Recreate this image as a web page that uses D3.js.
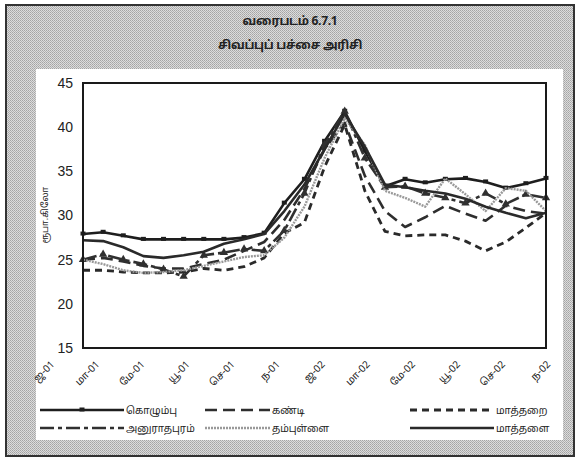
<!DOCTYPE html>
<html>
<head>
<meta charset="utf-8">
<script src="https://cdn.jsdelivr.net/npm/d3@7"></script>
<style>
  html, body { margin: 0; padding: 0; background: #fff; }
  svg { display: block; }
  text { font-family: "Noto Sans Tamil", "Latha", "Liberation Sans", Arial, sans-serif; }
</style>
</head>
<body>
<svg id="chart" width="579" height="460"></svg>
<script>
// மாதங்கள் ஜன-01 .. டிச-02
const months = d3.range(24);
const tickLabels = ['ஜ-01', 'மா-01', 'மே-01', 'யூ-01', 'செ-01', 'ந-01',
                    'ஜ-02', 'மா-02', 'மே-02', 'யூ-02', 'செ-02', 'ந-02'];
const yTicks = [15, 20, 25, 30, 35, 40, 45];

const colombo      = [27.9, 28.1, 27.7, 27.3, 27.3, 27.3, 27.3, 27.3, 27.5, 28.0, 31.4, 34.1, 38.4, 41.8, 37.3, 33.3, 34.1, 33.7, 34.1, 34.2, 33.8, 33.1, 33.6, 34.2];
const kandy        = [25.0, 25.2, 24.8, 24.3, 24.0, 24.0, 24.5, 25.0, 26.0, 27.0, 29.5, 33.0, 37.5, 40.5, 34.5, 30.5, 28.7, 29.8, 31.1, 30.2, 29.4, 31.1, 30.5, 30.2];
const matara       = [23.8, 23.8, 23.6, 23.5, 23.5, 23.6, 24.0, 23.8, 24.2, 25.2, 28.0, 29.2, 35.5, 40.3, 32.8, 28.2, 27.7, 27.8, 27.8, 27.1, 26.0, 27.0, 28.6, 30.3];
const anuradhapura = [25.0, 25.6, 25.0, 24.5, 23.9, 23.1, 25.5, 25.8, 26.2, 26.0, 28.3, 32.5, 38.0, 41.8, 36.5, 33.2, 33.3, 32.5, 32.0, 31.4, 32.5, 31.3, 32.4, 32.0];
const dambulla     = [25.0, 24.5, 23.8, 23.5, 23.6, 23.8, 24.3, 24.8, 25.3, 25.5, 27.5, 31.0, 36.5, 41.0, 38.0, 32.8, 32.0, 31.0, 34.2, 32.4, 30.5, 33.1, 32.8, 30.5];
const matale       = [27.2, 27.1, 26.4, 25.4, 25.2, 25.5, 25.9, 26.8, 27.3, 27.9, 30.5, 33.5, 37.5, 41.5, 37.8, 33.5, 33.2, 32.8, 32.5, 31.9, 31.0, 30.3, 29.7, 30.3];

const series = [
  { name: 'கொழும்பு',    values: colombo,      color: '#1e1e1e', width: 2.6, dash: null,         marker: 'square' },
  { name: 'கண்டி',       values: kandy,        color: '#2e2e2e', width: 2.6, dash: '12,6',       marker: null },
  { name: 'மாத்தறை',    values: matara,       color: '#2a2a2a', width: 2.8, dash: '7,5',        marker: null },
  { name: 'அனுராதபுரம்', values: anuradhapura, color: '#303030', width: 2.6, dash: '14,4,4,4',   marker: 'triangle' },
  { name: 'தம்புள்ளை',   values: dambulla,     color: '#999999', width: 2.4, dash: '2,1',        marker: null },
  { name: 'மாத்தளை',    values: matale,       color: '#2a2a2a', width: 2.6, dash: null,         marker: null },
];

const svg = d3.select('#chart');

// பின்புல புள்ளி அமைப்பு
const defs = svg.append('defs');
const pat = defs.append('pattern')
  .attr('id', 'hatch').attr('width', 2).attr('height', 2)
  .attr('patternUnits', 'userSpaceOnUse');
pat.append('rect').attr('width', 2).attr('height', 2).attr('fill', '#dcdcdc');
pat.append('rect').attr('width', 1).attr('height', 1).attr('fill', '#a4a4a4');
pat.append('rect').attr('x', 1).attr('y', 1).attr('width', 1).attr('height', 1).attr('fill', '#b2b2b2');

svg.append('rect').attr('x', 6).attr('y', 5).attr('width', 568).attr('height', 451)
  .attr('fill', 'url(#hatch)').attr('stroke', '#333').attr('stroke-width', 2);

svg.append('rect').attr('x', 36).attr('y', 69).attr('width', 527).attr('height', 371)
  .attr('fill', '#fff');

svg.append('text').attr('x', 290).attr('y', 25).attr('text-anchor', 'middle')
  .style('font-size', '12px').style('font-weight', 'bold').style('letter-spacing', '-0.3px')
  .attr('fill', '#222')
  .text('வரைபடம் 6.7.1');
svg.append('text').attr('x', 290).attr('y', 49).attr('text-anchor', 'middle')
  .style('font-size', '12px').style('font-weight', 'bold').style('letter-spacing', '-0.3px')
  .attr('fill', '#222')
  .text('சிவப்புப் பச்சை அரிசி');

const plotLeft = 83, plotRight = 546, plotTop = 83, plotBottom = 348;

const x = d3.scalePoint().domain(months).range([plotLeft, plotRight]);
const y = d3.scaleLinear().domain([15, 45]).range([plotBottom, plotTop]);
const xLab = d3.scalePoint().domain(tickLabels).range([55, 551]);

// y அச்சு
const yAxis = svg.append('g')
  .attr('transform', `translate(${plotLeft},0)`)
  .call(d3.axisLeft(y).tickValues(yTicks).tickSize(0).tickPadding(10));
yAxis.select('.domain').remove();
yAxis.selectAll('text')
  .style('font-family', '"Liberation Sans Narrow", "Liberation Sans", Arial, sans-serif')
  .style('font-size', '14px').attr('fill', '#222');

svg.append('text')
  .attr('transform', 'translate(48,215) rotate(-90)')
  .attr('text-anchor', 'middle')
  .style('font-size', '9px').attr('fill', '#222')
  .text('ரூபா.கிலோ');

// x அச்சு குறிகள்
svg.append('g').selectAll('text')
  .data(tickLabels)
  .join('text')
  .attr('transform', d => `translate(${xLab(d)},365) rotate(-45)`)
  .attr('text-anchor', 'end')
  .style('font-size', '10px').attr('fill', '#222')
  .text(d => d);

// கோடுகள்
const line = d3.line().x((d, i) => x(i)).y(d => y(d));
const plot = svg.append('g');

series.forEach(s => {
  plot.append('path')
    .datum(s.values)
    .attr('d', line)
    .attr('fill', 'none')
    .attr('stroke', s.color)
    .attr('stroke-width', s.width)
    .attr('stroke-dasharray', s.dash)
    .attr('stroke-linejoin', 'round');

  if (s.marker === 'square') {
    plot.selectAll(null).data(s.values).join('rect')
      .attr('x', (d, i) => x(i) - 2.5).attr('y', d => y(d) - 2.5)
      .attr('width', 5).attr('height', 4).attr('fill', s.color);
  }
  if (s.marker === 'triangle') {
    plot.selectAll(null).data(s.values).join('path')
      .attr('transform', (d, i) => `translate(${x(i)},${y(d)})`)
      .attr('d', d3.symbol(d3.symbolTriangle, 30))
      .attr('fill', s.color);
  }
});

svg.append('rect').attr('x', plotLeft).attr('y', plotTop)
  .attr('width', plotRight - plotLeft).attr('height', plotBottom - plotTop)
  .attr('fill', 'none').attr('stroke', '#1a1a1a').attr('stroke-width', 2);

// விளக்கம்
const legendCols = [40, 205, 410];
const legendRows = [410, 428];
const legend = svg.append('g');
series.forEach((s, i) => {
  const lx = legendCols[i % 3], ly = legendRows[Math.floor(i / 3)];
  const g = legend.append('g').attr('transform', `translate(${lx},${ly})`);
  const len = i % 3 === 1 ? 65 : 84;
  g.append('line').attr('x1', 0).attr('x2', len).attr('y1', 0).attr('y2', 0)
    .attr('stroke', s.color).attr('stroke-width', s.width)
    .attr('stroke-dasharray', s.dash);
  if (s.marker === 'square') {
    g.append('rect').attr('x', len / 2 - 2.5).attr('y', -2.5).attr('width', 5).attr('height', 4)
      .attr('fill', s.color);
  }
  g.append('text').attr('x', len + 2).attr('y', 4)
    .style('font-size', '10px').attr('fill', '#222')
    .text(s.name);
});
</script>
</body>
</html>
